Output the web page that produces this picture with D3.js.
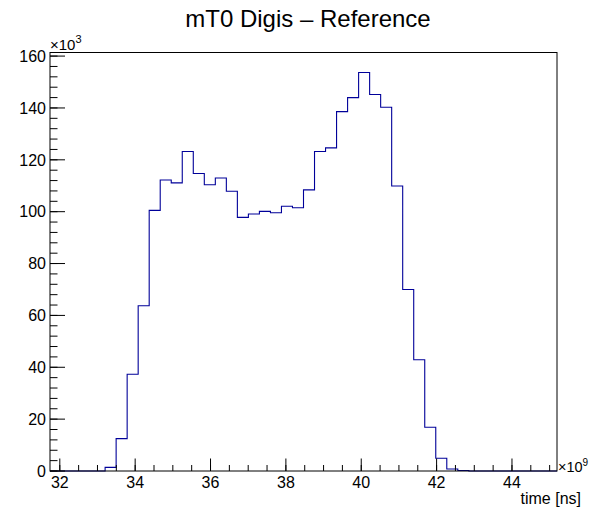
<!DOCTYPE html>
<html>
<head>
<meta charset="utf-8">
<script src="https://cdn.jsdelivr.net/npm/d3@7"></script>
<style>
  body { margin: 0; background: #fff; }
  svg { display: block; font-family: "Liberation Sans", Arial, Helvetica, sans-serif; }
</style>
</head>
<body>
<svg id="chart" width="590" height="511"></svg>
<script>
// histogram definition (x in ns, counts in units of 10^3)
const titleText = 'mT0 Digis \u2013 Reference';
const xTitle = 'time [ns]';
const xRange = [31.74, 45.195];
const counts = [
  0, 0, 0, 0, 0, 1.4, 12.5, 37.3, 63.7, 100.5,
  112.2, 111.1, 123.2, 114.7, 110.4, 113.0, 107.9, 97.8, 99.1, 100.1,
  99.6, 102.1, 101.5, 108.4, 123.2, 124.6, 138.6, 144.0, 153.7, 145.2,
  140.3, 109.9, 70.0, 42.9, 16.9, 4.9, 0.8, 0.2, 0, 0,
  0, 0, 0, 0, 0, 0
];
const xMajorTicks = [32, 34, 36, 38, 40, 42, 44];
const yMajorTicks = [0, 20, 40, 60, 80, 100, 120, 140, 160];

const frame = {left: 50, right: 557, top: 52.5, bottom: 471};
const svg = d3.select('#chart');

const x = d3.scaleLinear().domain(xRange).range([frame.left, frame.right]);
// ROOT leaves 5% headroom above the maximum
const y = d3.scaleLinear().domain([0, d3.max(counts) * 1.05]).range([frame.bottom, frame.top]);

const binW = (xRange[1] - xRange[0]) / counts.length;
const bins = counts.map((c, i) => ({x0: xRange[0] + i * binW, x1: xRange[0] + (i + 1) * binW, v: c}));

// step outline
let path = d3.path();
path.moveTo(x(bins[0].x0), y(0));
bins.forEach((b) => {
  path.lineTo(x(b.x0), y(b.v));
  path.lineTo(x(b.x1), y(b.v));
});
path.lineTo(x(xRange[1]), y(0));

svg.append('path')
  .attr('d', path.toString())
  .attr('fill', 'none')
  .attr('stroke', '#000099')
  .attr('stroke-width', 1.1);

// frame
svg.append('rect')
  .attr('x', frame.left)
  .attr('y', frame.top)
  .attr('width', frame.right - frame.left)
  .attr('height', frame.bottom - frame.top)
  .attr('fill', 'none')
  .attr('stroke', '#000')
  .attr('stroke-width', 1);

// ticks drawn inward like ROOT
const xMinor = d3.range(32, xRange[1], 0.5);
const yMinor = d3.range(0, y.domain()[1], 4);

const ticks = svg.append('g').attr('stroke', '#000').attr('stroke-width', 1);
ticks.selectAll('line.xminor')
  .data(xMinor)
  .enter()
  .append('line')
  .attr('x1', d => x(d)).attr('x2', d => x(d))
  .attr('y1', frame.bottom).attr('y2', frame.bottom - 6);
ticks.selectAll('line.xmajor')
  .data(xMajorTicks)
  .enter()
  .append('line')
  .attr('x1', d => x(d)).attr('x2', d => x(d))
  .attr('y1', frame.bottom).attr('y2', frame.bottom - 12.5);
ticks.selectAll('line.yminor')
  .data(yMinor)
  .enter()
  .append('line')
  .attr('x1', frame.left).attr('x2', frame.left + 7.5)
  .attr('y1', d => y(d)).attr('y2', d => y(d));
ticks.selectAll('line.ymajor')
  .data(yMajorTicks)
  .enter()
  .append('line')
  .attr('x1', frame.left).attr('x2', frame.left + 15)
  .attr('y1', d => y(d)).attr('y2', d => y(d));

// labels
svg.append('g')
  .selectAll('text')
  .data(xMajorTicks)
  .enter()
  .append('text')
  .attr('x', d => x(d))
  .attr('y', 488)
  .attr('text-anchor', 'middle')
  .attr('font-size', 16)
  .text(d => d);

svg.append('g')
  .selectAll('text')
  .data(yMajorTicks)
  .enter()
  .append('text')
  .attr('x', 46)
  .attr('y', d => y(d))
  .attr('dy', '0.36em')
  .attr('text-anchor', 'end')
  .attr('font-size', 16)
  .text(d => d);

// exponent markers
let yExp = svg.append('text')
  .attr('x', 50)
  .attr('y', 50)
  .attr('font-size', 15);
yExp.append('tspan').text('\u00d710');
yExp.append('tspan').attr('dy', -7).attr('font-size', 11).text('3');

let xExp = svg.append('text')
  .attr('x', 558)
  .attr('y', 472)
  .attr('font-size', 14.5);
xExp.append('tspan').text('\u00d710');
xExp.append('tspan').attr('dy', -6).attr('font-size', 10).text('9');

svg.append('text')
  .attr('x', 581)
  .attr('y', 504)
  .attr('text-anchor', 'end')
  .attr('font-size', 16)
  .text(xTitle);

svg.append('text')
  .attr('x', 308)
  .attr('y', 27)
  .attr('text-anchor', 'middle')
  .attr('font-size', 24)
  .text(titleText);
</script>
</body>
</html>
